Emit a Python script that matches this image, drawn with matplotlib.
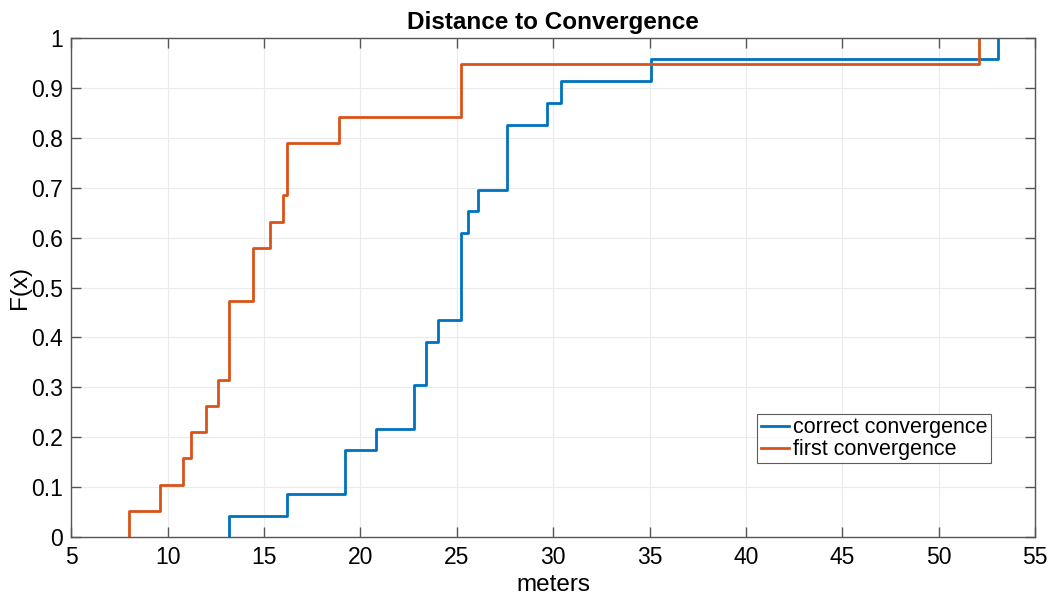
import matplotlib.pyplot as plt
import numpy as np

plt.rcParams['font.family'] = ['Liberation Sans', 'DejaVu Sans']

# distances (meters), duplicates where a step jumps more than 1/n
correct_conv = [13.2, 16.2, 19.2, 19.2, 20.8, 22.8, 22.8, 23.4, 23.4, 24.0,
                25.2, 25.2, 25.2, 25.2, 25.6, 26.1, 27.6, 27.6, 27.6, 29.7,
                30.4, 35.1, 53.1]
first_conv = [8.0, 9.6, 10.8, 11.2, 12.0, 12.6, 13.2, 13.2, 13.2, 14.4,
              14.4, 15.3, 16.0, 16.2, 16.2, 18.9, 25.2, 25.2, 52.1]

xticks = np.arange(5, 56, 5)
yticks = np.round(np.arange(0, 1.01, 0.1), 1)
ytick_labels = ['0'] + ['%.1f' % v for v in yticks[1:-1]] + ['1']


def ecdf(data):
    x = np.sort(np.asarray(data))
    f = np.arange(1, len(x) + 1) / len(x)
    return np.concatenate([[x[0]], x]), np.concatenate([[0], f])


fig = plt.figure(figsize=(10.5, 6.04), dpi=100)
ax = fig.add_axes([0.068, 0.1104, 0.9177, 0.8272])

x1, f1 = ecdf(correct_conv)
x2, f2 = ecdf(first_conv)
ax.step(x1, f1, where='post', color='#0072BD', lw=2, label='correct convergence')
ax.step(x2, f2, where='post', color='#D95319', lw=2, label='first convergence')

ax.set_xlim(5, 55)
ax.set_ylim(0, 1)
ax.set_xticks(xticks)
ax.set_yticks(yticks)
ax.set_yticklabels(ytick_labels)
ax.tick_params(labelsize=16.5, direction='in', length=7, width=1, color='#555555',
               top=True, right=True, pad=6)
ax.grid(True, color='#ebebeb', lw=0.8)
ax.set_axisbelow(True)
for s in ax.spines.values():
    s.set_color('#555555')
    s.set_linewidth(1)

ax.set_xlabel('meters', fontsize=17.5, labelpad=4)
ax.set_ylabel('F(x)', fontsize=17.5, labelpad=0)
ax.set_title('Distance to Convergence', fontsize=17.5, fontweight='bold', pad=6)

leg = ax.legend(loc='lower left', bbox_to_anchor=(0.712, 0.148), fontsize=15.5,
                frameon=True, fancybox=False, edgecolor='#333333',
                handlelength=1.3, handletextpad=0.2, borderpad=0.15,
                labelspacing=0.05, borderaxespad=0)
leg.get_frame().set_linewidth(0.8)

fig.savefig('out.png', dpi=100)
